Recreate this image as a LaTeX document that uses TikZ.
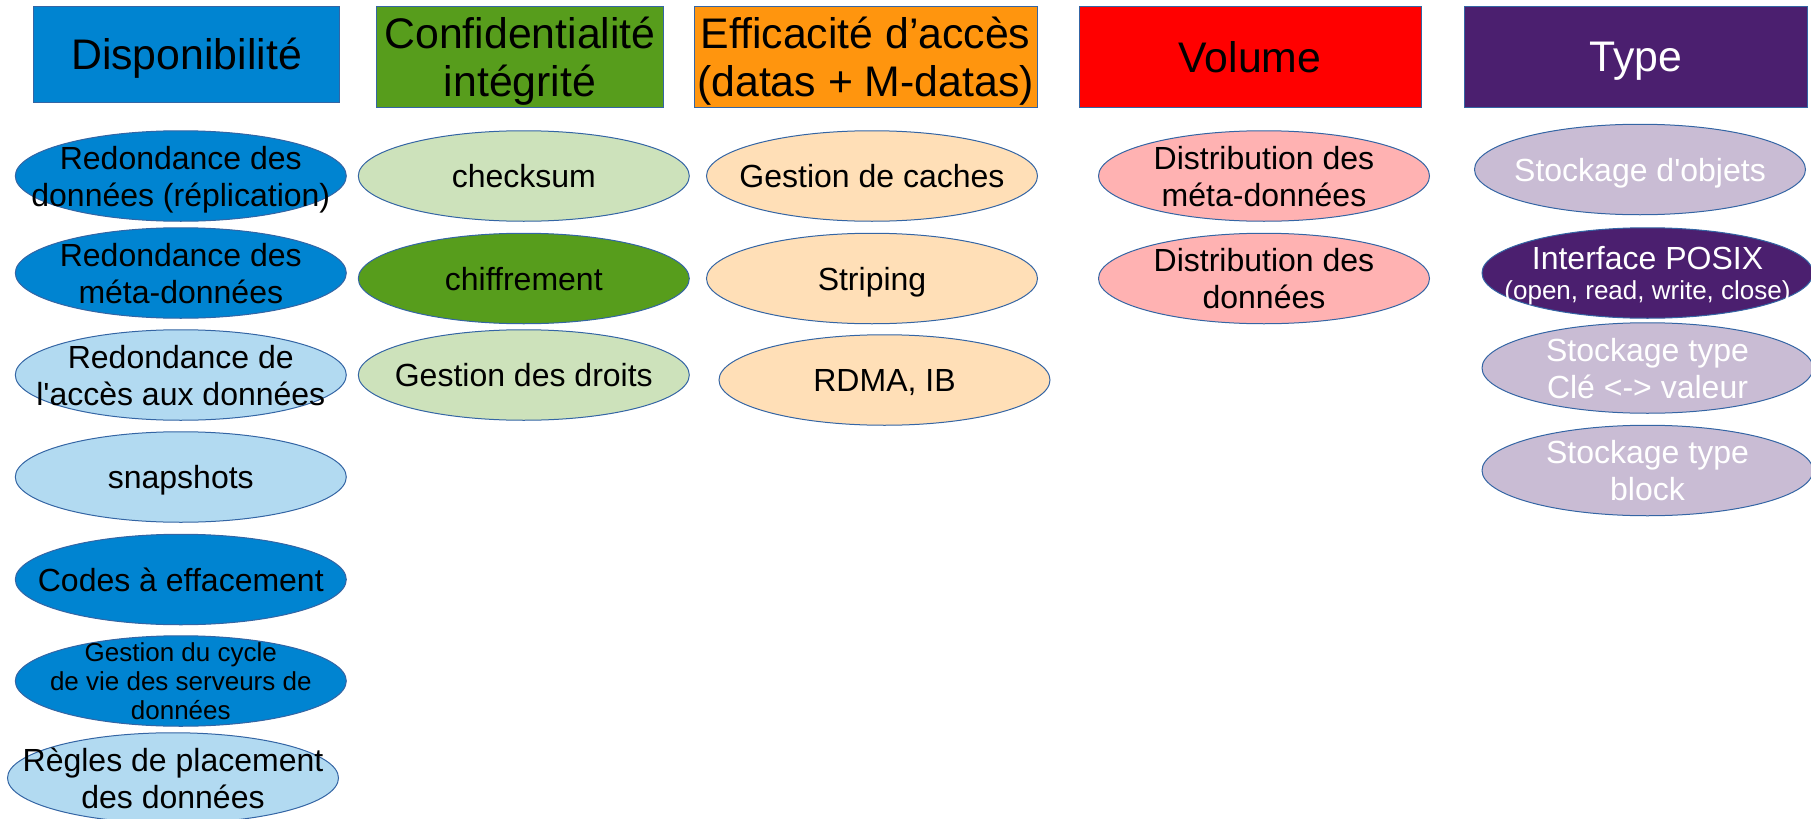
\documentclass[tikz,border=0pt]{standalone}
\usepackage{fontspec}
\setmainfont{Liberation Sans}[Ligatures=TeXOff]
\usetikzlibrary{shapes.geometric}

\definecolor{dispo}{HTML}{0084D1}
\definecolor{conf}{HTML}{579D1C}
\definecolor{effic}{HTML}{FF950E}
\definecolor{vol}{HTML}{FF0000}
\definecolor{typ}{HTML}{4B1F6F}
\definecolor{rim}{HTML}{3465A4}

\begin{document}
\begin{tikzpicture}[
  x=0.5pt, y=-0.5pt,
  head/.style={rectangle, draw=rim, line width=0.5pt, minimum width=#1, minimum height=50.5pt,
    inner sep=0pt, align=center, text depth=0pt, font=\fontsize{21.4}{24}\selectfont},
  itemtext/.style={align=center, inner sep=0pt, text depth=0pt, font=\fontsize{16}{18.5}\selectfont},
  small/.style={font=\fontsize{13}{14.5}\selectfont},
  pale/.style={text=white},
  item/.style n args={2}{ellipse, draw=rim, line width=0.5pt, minimum width=165.5pt,
    minimum height=45.25pt, inner sep=0pt, label={[itemtext,#1]center:#2}}
]
\useasboundingbox (0,0) rectangle (1811,819);

% headers
\node[head=153pt, minimum height=48pt, fill=dispo] (dispo) at (186.5,54) {Disponibilité};
\node[head=143.75pt, fill=conf] (conf) at (520,56.5) {Confidentialité\\intégrité};
\node[head=171.5pt, fill=effic] (effic) at (865.5,56.5) {Efficacité d’accès\\(datas + M-datas)};
\node[head=171pt, fill=vol] (vol) at (1250,56.5) {Volume};
\node[head=171.5pt, fill=typ, text=white] (typ) at (1635.7,56.5) {Type};

% disponibilite
\node[item={}{Redondance des\\données (réplication)}, fill=dispo] (redond) at (180.8,176) {};
\node[item={}{Redondance des\\méta-données}, fill=dispo] (redmeta) at (180.8,273) {};
\node[item={}{Redondance de\\l'accès aux données}, fill=dispo!30] (redacces) at (180.8,375) {};
\node[item={}{snapshots}, fill=dispo!30] (snap) at (180.8,477) {};
\node[item={}{Codes à effacement}, fill=dispo] (codes) at (180.8,579.5) {};
\node[item={small}{Gestion du cycle\\de vie des serveurs de\\données}, fill=dispo] (cycle) at (180.8,681) {};
\node[item={}{Règles de placement\\des données}, fill=dispo!30] (regles) at (173,778) {};

% confidentialite
\node[item={}{checksum}, fill=conf!30] (checksum) at (523.8,176) {};
\node[item={}{chiffrement}, fill=conf] (chiffr) at (523.8,278.5) {};
\node[item={}{Gestion des droits}, fill=conf!30] (droits) at (523.8,375) {};

% efficacite
\node[item={}{Gestion de caches}, fill=effic!30] (caches) at (872,176) {};
\node[item={}{Striping}, fill=effic!30] (striping) at (872,278.5) {};
\node[item={}{RDMA, IB}, fill=effic!30] (rdma) at (884.5,380) {};

% volume
\node[item={}{Distribution des\\méta-données}, fill=vol!30] (distmeta) at (1264,176) {};
\node[item={}{Distribution des\\données}, fill=vol!30] (distdata) at (1264,278.5) {};

% type
\node[item={pale}{Stockage d'objets}, fill=typ!30] (objets) at (1640,169.5) {};
\node[item={pale}{Interface POSIX\\[-3.6pt]{\fontsize{13}{14}\selectfont (open, read, write, close)}},
  fill=typ] (posix) at (1647.5,273) {};
\node[item={pale}{Stockage type\\Clé <-> valeur}, fill=typ!30] (cle) at (1647.5,368) {};
\node[item={pale}{Stockage type\\block}, fill=typ!30] (block) at (1647.5,470.5) {};
\end{tikzpicture}
\end{document}
